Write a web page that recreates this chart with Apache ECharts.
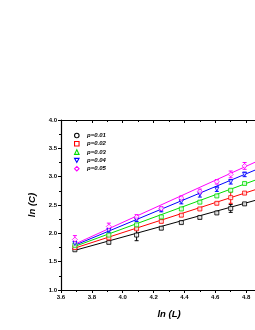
<!DOCTYPE html>
<html><head><meta charset="utf-8">
<script src="https://cdn.jsdelivr.net/npm/echarts@6/dist/echarts.min.js"></script>
<style>html,body{margin:0;padding:0;background:#fff}#c{width:255px;height:330px}</style>
</head><body><div id="c"></div>
<script>
const lnL = [3.69, 3.91, 4.09, 4.25, 4.38, 4.50, 4.61, 4.70, 4.79];
const names = ['p=0.01','p=0.02','p=0.03','p=0.04','p=0.05'];
const colors = ['#000000','#ff0000','#00dd00','#0000ff','#ff00ff'];
const symbols = ['rect','rect','rect','path://M0,0 L10,0 L5,9 Z','diamond'];
const legendIcons = ['circle','rect','triangle','path://M0,0 L10,0 L5,9 Z','diamond'];
const p001 = [1.71, 1.84, 1.97, 2.09, 2.19, 2.28, 2.36, 2.44, 2.52];
const p002 = [1.75, 1.92, 2.08, 2.21, 2.32, 2.43, 2.53, 2.63, 2.71];
const p003 = [1.79, 1.97, 2.15, 2.29, 2.43, 2.55, 2.66, 2.76, 2.88];
const p004 = [1.82, 2.05, 2.24, 2.41, 2.56, 2.69, 2.78, 2.91, 3.04];
const p005 = [1.89, 2.12, 2.29, 2.44, 2.62, 2.74, 2.91, 3.04, 3.19];
const e001 = [0.02, 0.02, 0.10, 0.02, 0.02, 0.02, 0.02, 0.07, 0.02];
const e002 = [0.02, 0.02, 0.02, 0.02, 0.02, 0.02, 0.02, 0.10, 0.02];
const e003 = [0.02, 0.02, 0.02, 0.02, 0.02, 0.02, 0.02, 0.02, 0.02];
const e004 = [0.03, 0.03, 0.03, 0.03, 0.04, 0.05, 0.04, 0.04, 0.04];
const e005 = [0.07, 0.06, 0.04, 0.03, 0.04, 0.04, 0.04, 0.06, 0.06];
const fitX = [3.69, 4.87];
const fit001 = [1.70, 2.59];
const fit002 = [1.74, 2.78];
const fit003 = [1.77, 2.95];
const fit004 = [1.79, 3.13];
const fit005 = [1.81, 3.27];

const vals = [p001,p002,p003,p004,p005];
const errs = [e001,e002,e003,e004,e005];
const fits = [fit001,fit002,fit003,fit004,fit005];

const chart = echarts.init(document.getElementById('c'), null, {renderer:'canvas'});
const series = [];
for (let i = 0; i < 5; i++) {
  series.push({
    type:'line', name:names[i], xAxisIndex:0, yAxisIndex:0,
    data: fitX.map((x,j)=>[x, fits[i][j]]),
    showSymbol:false, symbol:'none', silent:true,
    lineStyle:{color:colors[i], width:1}, z:2
  });
}
for (let i = 0; i < 5; i++) {
  series.push({
    type:'custom', name:names[i]+'err', xAxisIndex:0, yAxisIndex:0,
    data: lnL.map((x,j)=>[x, vals[i][j], errs[i][j]]),
    renderItem: function(params, api){
      const x = api.value(0), y = api.value(1), e = api.value(2);
      const top = api.coord([x, y+e]), bot = api.coord([x, y-e]);
      const st = {stroke:colors[i], lineWidth:1};
      return {type:'group', children:[
        {type:'line', shape:{x1:top[0],y1:top[1],x2:bot[0],y2:bot[1]}, style:st},
        {type:'line', shape:{x1:top[0]-2,y1:top[1],x2:top[0]+2,y2:top[1]}, style:st},
        {type:'line', shape:{x1:bot[0]-2,y1:bot[1],x2:bot[0]+2,y2:bot[1]}, style:st}
      ]};
    },
    z:3, silent:true
  });
}
for (let i = 0; i < 5; i++) {
  series.push({
    type:'scatter', name:names[i], xAxisIndex:0, yAxisIndex:0,
    data: lnL.map((x,j)=>[x, vals[i][j]]),
    symbol: symbols[i], symbolSize: i===4 ? 5 : 4,
    itemStyle:{color:'#fff', borderColor:colors[i], borderWidth:1}, z:4
  });
}

const axisLbl = {fontFamily:'Liberation Sans', fontWeight:'bold', fontSize:6, color:'#000'};
chart.setOption({
  animation:false,
  grid:{left:61, top:120, width:216, height:170, outerBoundsMode:'none', containLabel:false},
  legend:{
    orient:'vertical', left:74, top:132, padding:0, itemGap:1.3, itemWidth:4.5, itemHeight:4.5,
    textStyle:{fontFamily:'Liberation Sans', fontWeight:'bold', fontStyle:'italic', fontSize:6, lineHeight:7, color:'#000', padding:[0,0,0,3]},
    data: names.map((n,i)=>({name:n, icon:legendIcons[i], itemStyle:{color:'#fff', borderColor:colors[i], borderWidth:1.1}}))
  },
  xAxis:[{
    type:'value', min:3.6, max:5.0, interval:0.2, position:'bottom',
    name:'ln (L)', nameLocation:'middle', nameGap:19,
    nameTextStyle:{fontFamily:'Liberation Sans', fontWeight:'bold', fontStyle:'italic', fontSize:9.5, color:'#000'},
    axisLine:{lineStyle:{color:'#000', width:1.2}},
    axisTick:{inside:false, length:3, lineStyle:{color:'#000'}},
    minorTick:{show:true, splitNumber:2, length:2, lineStyle:{color:'#000'}},
    axisLabel:Object.assign({margin:4, formatter:v=>v.toFixed(1)}, axisLbl),
    splitLine:{show:false}
  },{
    type:'value', min:3.6, max:5.0, interval:0.2, position:'top',
    axisLine:{lineStyle:{color:'#000', width:1}},
    axisTick:{inside:true, length:3, lineStyle:{color:'#000'}},
    minorTick:{show:true, splitNumber:2, length:2, lineStyle:{color:'#000'}},
    axisLabel:{show:false}, splitLine:{show:false}
  }],
  yAxis:[{
    type:'value', min:1.0, max:4.0, interval:0.5,
    name:'ln (C)', nameLocation:'middle', nameGap:17, nameRotate:90,
    nameTextStyle:{fontFamily:'Liberation Sans', fontWeight:'bold', fontStyle:'italic', fontSize:9.5, color:'#000'},
    axisLine:{show:true, lineStyle:{color:'#000', width:1.2}},
    axisTick:{show:true, inside:false, length:3, lineStyle:{color:'#000'}},
    minorTick:{show:true, splitNumber:2, length:2, lineStyle:{color:'#000'}},
    axisLabel:Object.assign({margin:4, formatter:v=>v.toFixed(1)}, axisLbl),
    splitLine:{show:false}
  }],
  series: series
});
</script></body></html>
